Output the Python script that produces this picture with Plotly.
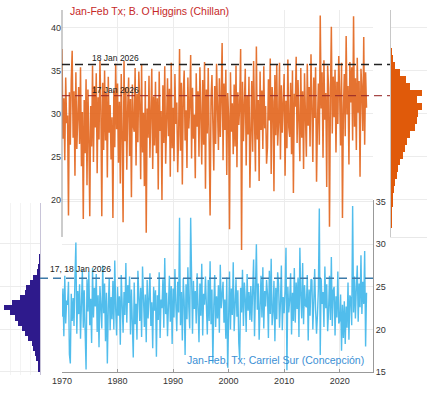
import plotly.graph_objects as go

W, H = 427, 393

years = list(range(1970, 2025))
pts_per_year = 6

chillan_tx = [
    37.5, 27.1, 31.8, 24.6, 34.2, 28.9,
    29.8, 18.2, 32.5, 26.4, 33.9, 37.3,
    27.2, 32.6, 22.8, 34.8, 25.9, 30.7,
    33.1, 26.5, 35.4, 23.9, 30.2, 17.8,
    31.6, 25.4, 34.0, 21.7, 32.8, 27.3,
    18.1, 30.9, 26.2, 35.6, 24.4, 33.2,
    28.4, 34.7, 23.1, 31.9, 27.0, 36.2,
    30.5, 18.1, 33.6, 25.8, 35.0, 26.9,
    32.4, 22.6, 34.3, 27.8, 31.0, 24.7,
    29.6, 17.9, 32.7, 26.1, 35.8, 28.2,
    33.5, 24.3, 31.4, 21.9, 34.6, 27.5,
    17.4, 36.1, 26.8, 33.0, 23.5, 30.8,
    34.2, 25.1, 31.7, 20.3, 33.4, 28.6,
    27.9, 35.3, 24.0, 32.3, 26.7, 34.9,
    31.2, 22.4, 35.7, 25.5, 30.1, 21.6,
    33.8, 16.2, 30.6, 27.2, 34.4, 24.9,
    29.1, 35.2, 23.6, 32.0, 26.3, 33.7,
    25.4, 31.8, 21.2, 34.9, 28.0, 30.3,
    20.0, 33.3, 26.6, 35.5, 24.2, 31.5,
    34.1, 27.4, 32.9, 22.7, 35.9, 26.0,
    30.7, 24.5, 34.6, 28.8, 31.3, 23.2,
    27.6, 37.5, 25.7, 33.6, 21.8, 32.2,
    35.0, 26.9, 30.4, 23.7, 34.2, 28.3,
    31.1, 36.8, 24.8, 33.0, 27.1, 29.9,
    22.5, 34.7, 28.5, 32.6, 25.0, 35.4,
    29.3, 24.1, 33.9, 26.4, 36.0, 21.3,
    32.8, 27.7, 35.3, 25.2, 18.2, 31.6,
    34.5, 28.9, 23.4, 33.2, 26.5, 35.8,
    30.2, 25.8, 34.1, 27.3, 31.9, 38.2,
    24.6, 33.5, 28.1, 35.1, 22.9, 32.4,
    29.7, 16.6, 34.8, 27.9, 31.2, 25.3,
    33.4, 26.2, 35.6, 23.8, 32.5, 28.7,
    31.0, 37.5, 14.2, 33.7, 26.8, 30.5,
    35.2, 24.0, 32.1, 27.6, 34.3, 21.4,
    28.5, 33.8, 25.6, 36.1, 29.4, 23.3,
    37.8, 27.0, 31.6, 22.2, 34.9, 28.1,
    32.7, 25.9, 35.5, 28.3, 30.9, 24.2,
    26.1, 34.0, 29.2, 36.4, 23.0, 33.1,
    31.4, 21.0, 34.5, 27.5, 35.7, 26.3,
    29.0, 35.9, 24.7, 33.3, 27.8, 31.9,
    34.6, 22.8, 31.5, 26.0, 36.3, 28.4,
    27.3, 33.6, 25.3, 35.0, 20.8, 32.3,
    30.8, 36.6, 26.6, 33.9, 28.2, 24.5,
    35.3, 27.2, 32.6, 23.6, 34.7, 29.8,
    25.0, 35.8, 28.6, 33.1, 26.2, 36.9,
    31.7, 24.4, 34.2, 29.5, 35.4, 22.1,
    28.9, 33.5, 26.4, 41.4, 30.6, 34.8,
    24.9, 36.2, 29.3, 32.4, 21.5, 35.6,
    33.0, 16.9, 31.8, 40.1, 27.7, 34.3,
    29.6, 35.1, 25.5, 33.7, 28.8, 36.7,
    32.2, 26.3, 35.9, 17.9, 30.4, 34.6,
    27.4, 39.0, 29.9, 33.2, 24.1, 36.0,
    31.3, 35.4, 26.9, 41.3, 28.5, 34.1,
    25.8, 36.5, 30.1, 33.8, 22.7, 35.2,
    32.9, 28.0, 38.9, 26.4, 34.8, 30.7,
]

concepcion_tx = [
    21.5, 24.8, 19.2, 26.3, 20.7, 23.4,
    22.9, 25.6, 17.1, 16.0, 24.2, 21.0,
    23.7, 20.4, 26.1, 30.2, 19.5, 24.5,
    21.8, 25.3, 18.9, 23.9, 27.0, 20.2,
    24.6, 19.8, 15.3, 25.9, 22.1, 26.8,
    20.5, 23.6, 18.4, 27.2, 21.4, 24.9,
    22.7, 26.5, 19.7, 24.0, 17.9, 25.1,
    23.3, 20.1, 27.5, 21.9, 25.4, 18.6,
    24.3, 16.0, 22.6, 26.0, 19.9, 23.8,
    21.2, 25.7, 20.0, 28.1, 22.4, 19.3,
    25.0, 21.6, 23.9, 18.2, 26.4, 22.0,
    19.6, 24.4, 21.7, 27.8, 20.8, 25.2,
    23.1, 26.2, 19.4, 24.7, 21.5, 16.7,
    25.5, 20.6, 23.0, 18.8, 26.9, 22.3,
    21.0, 24.9, 19.1, 27.4, 22.8, 20.3,
    24.1, 18.5, 25.8, 21.3, 23.6, 26.6,
    20.4, 23.2, 17.8, 25.0, 22.2, 24.6,
    16.8, 24.0, 21.1, 26.7, 19.0, 23.5,
    22.5, 25.9, 20.2, 28.4, 21.8, 24.3,
    19.2, 23.7, 26.3, 20.9, 25.1, 18.3,
    24.8, 21.4, 27.1, 22.9, 19.8, 25.6,
    22.0, 33.1, 20.5, 24.4, 18.7, 26.0,
    23.4, 17.0, 25.3, 21.2, 27.3, 22.6,
    20.1, 33.1, 23.8, 19.5, 25.7, 22.4,
    24.5, 20.7, 26.6, 22.1, 18.5, 25.4,
    21.6, 27.7, 19.3, 24.2, 22.9, 26.2,
    23.0, 19.4, 25.8, 21.0, 28.0, 20.6,
    24.7, 16.0, 22.8, 26.4, 20.3, 23.9,
    21.3, 25.2, 19.6, 27.6, 22.5, 24.1,
    25.6, 20.8, 23.5, 18.9, 26.1, 15.5,
    22.4, 26.8, 20.0, 24.8, 21.7, 27.9,
    19.8, 23.3, 25.9, 21.5, 24.6, 18.4,
    16.5, 24.9, 22.0, 27.0, 20.4, 25.5,
    23.6, 19.7, 26.5, 22.2, 24.4, 21.1,
    25.1, 20.9, 23.7, 28.2, 19.2, 24.0,
    30.0, 22.3, 25.4, 18.8, 23.9, 26.3,
    21.4, 27.3, 20.1, 24.5, 22.7, 25.8,
    24.2, 19.0, 26.9, 21.8, 28.3, 20.5,
    22.1, 25.7, 18.6, 24.9, 21.2, 26.7,
    25.3, 20.2, 23.1, 27.5, 19.9, 23.8,
    21.9, 24.6, 29.6, 15.2, 25.0, 22.0,
    23.5, 26.6, 19.4, 24.3, 21.0, 27.2,
    20.8, 25.5, 22.4, 26.1, 19.1, 29.6,
    24.0, 21.3, 27.8, 20.6, 25.2, 22.8,
    22.6, 26.4, 18.7, 24.7, 21.6, 25.9,
    25.8, 20.0, 23.2, 27.1, 22.3, 19.5,
    21.7, 24.8, 34.2, 17.0, 26.0, 23.0,
    24.4, 20.3, 27.4, 22.5, 25.3, 19.8,
    22.2, 26.3, 21.1, 28.5, 20.4, 24.6,
    25.0, 19.3, 23.9, 21.4, 26.8, 20.7,
    21.0, 24.1, 17.5, 22.9, 19.0, 23.3,
    18.3, 22.7, 20.2, 25.5, 18.8, 24.0,
    23.7, 20.5, 34.5, 22.0, 26.2, 21.3,
    24.9, 27.5, 20.9, 25.4, 22.6, 28.7,
    21.8, 25.6, 23.0, 29.2, 18.0, 24.3,
]

# histogram bins (centres, degC) and bar lengths (relative counts)
chillan_bin_centres = [37.2, 36.4, 35.6, 34.8, 34.0, 33.2, 32.4, 31.6, 30.8, 30.0, 29.2, 28.4, 27.6,
                       26.8, 26.0, 25.2, 24.4, 23.6, 22.8, 22.0, 21.2, 20.4, 19.6, 18.8, 18.0, 17.2]
chillan_bin_counts = [1, 2, 4, 9, 15, 19, 31, 26, 31, 27, 26, 24, 19,
                      16, 14, 12, 9, 7, 6, 4, 3, 2, 1.5, 1, 1, 0.7]
chillan_bin_width = 0.8

concep_bin_centres = [28.5, 27.9, 27.3, 26.7, 26.1, 25.5, 24.9, 24.3, 23.7, 23.1, 22.5, 21.9,
                      21.3, 20.7, 20.1, 19.5, 18.9, 18.3, 17.7, 17.1, 16.5, 15.9, 15.3]
concep_bin_counts = [0.5, 1, 1.5, 3, 7, 10, 14, 15, 20, 28, 36, 30,
                     25, 22, 18, 15, 12, 8, 7, 5, 4, 2, 1.5]
concep_bin_width = 0.6

rec_18jan_chillan = 35.7
rec_17jan_chillan = 32.1
rec_1718jan_concep = 26.0

year_ticks = [1970, 1980, 1990, 2000, 2010, 2020]
upper_ticks = [20, 25, 30, 35, 40]
lower_ticks = [15, 20, 25, 30, 35]

def xpos(vals):
    out = []
    for y in years:
        for i in range(pts_per_year):
            out.append(y + i / pts_per_year)
    return out[:len(vals)]

def px(x):
    return x / W

def py(y):
    return 1 - y / H

FONT = "Liberation Sans"
ORANGE = "rgba(225,96,20,0.88)"
BLUE = "rgba(62,182,234,0.9)"

fig = go.Figure()

fig.add_trace(go.Scatter(x=xpos(concepcion_tx), y=concepcion_tx, mode="lines",
                         line=dict(color=BLUE, width=1.4), xaxis="x", yaxis="y",
                         showlegend=False, hoverinfo="skip"))
fig.add_trace(go.Scatter(x=xpos(chillan_tx), y=chillan_tx, mode="lines",
                         line=dict(color=ORANGE, width=1.5), xaxis="x2", yaxis="y2",
                         showlegend=False, hoverinfo="skip"))
fig.add_trace(go.Bar(y=chillan_bin_centres, x=chillan_bin_counts, orientation="h",
                     width=chillan_bin_width, marker=dict(color="#e05a0a", line=dict(width=0)),
                     xaxis="x3", yaxis="y3", showlegend=False, hoverinfo="skip"))
fig.add_trace(go.Bar(y=concep_bin_centres, x=concep_bin_counts, orientation="h",
                     width=concep_bin_width, marker=dict(color="#2e1a8c", line=dict(width=0)),
                     xaxis="x4", yaxis="y4", showlegend=False, hoverinfo="skip"))

GRID = "#ececec"
tickfont = dict(family=FONT, size=9, color="#333")
xdom = [px(62), px(373)]
common = dict(automargin=False, zeroline=False)

fig.update_layout(
    template="none",
    width=W, height=H,
    margin=dict(l=0, r=0, t=0, b=0, pad=0, autoexpand=False),
    paper_bgcolor="white", plot_bgcolor="rgba(0,0,0,0)",
    bargap=0,
    xaxis=dict(domain=xdom, range=[1970, 2026], anchor="y", tickvals=year_ticks,
               showline=True, linecolor="#999", linewidth=1, ticks="inside", ticklen=3,
               tickcolor="#999", showgrid=True, gridcolor=GRID, tickfont=tickfont, **common),
    yaxis=dict(domain=[py(372), py(200)], range=[15, 35.2], anchor="x", side="right",
               tickvals=lower_ticks, showline=True, linecolor="#999", linewidth=1,
               ticks="", showgrid=True, gridcolor=GRID, tickfont=tickfont, **common),
    xaxis2=dict(domain=xdom, range=[1970, 2026], anchor="y2", tickvals=year_ticks,
                showticklabels=False, showline=False, ticks="", showgrid=True, gridcolor=GRID,
                **common),
    yaxis2=dict(domain=[py(260), py(10)], range=[13.03, 42.03], anchor="x2", side="left",
                tickvals=upper_ticks, showline=False, ticks="", showgrid=True,
                gridcolor=GRID, tickfont=tickfont, **common),
    xaxis3=dict(domain=[px(391), 1.0], range=[0, 36], anchor="y3", showticklabels=False,
                ticks="", showline=True, linecolor="#e8e8e8", showgrid=False, **common),
    yaxis3=dict(domain=[py(237), py(10)], range=[15.7, 42.03], anchor="x3",
                tickvals=upper_ticks, showticklabels=False, ticks="", showline=True,
                linecolor="#c8c8c8", showgrid=True, gridcolor=GRID, **common),
    xaxis4=dict(domain=[0.0, px(40)], range=[40, 0], anchor="y4", showticklabels=False,
                ticks="", showline=False, showgrid=True, gridcolor="#f3f3f3", dtick=10,
                **common),
    yaxis4=dict(domain=[py(375), py(203)], range=[14.6, 34.8], anchor="x4", side="right",
                tickvals=lower_ticks, showticklabels=False, ticks="", showline=True,
                linecolor="#c8c4d8", showgrid=True, gridcolor=GRID, **common),
)

shapes = [
    dict(type="line", xref="paper", yref="y2", x0=px(62), x1=px(62), y0=15.7, y1=42.03,
         line=dict(color="#999", width=1)),
    dict(type="line", xref="paper", yref="y2", x0=px(62), x1=px(390),
         y0=rec_18jan_chillan, y1=rec_18jan_chillan,
         line=dict(color="#222", width=1.4, dash="8px,5px")),
    dict(type="line", xref="paper", yref="y2", x0=px(62), x1=px(390),
         y0=rec_17jan_chillan, y1=rec_17jan_chillan,
         line=dict(color="rgba(150,40,40,0.85)", width=1.4, dash="8px,5px")),
    dict(type="line", xref="paper", yref="y", x0=px(40), x1=px(373),
         y0=rec_1718jan_concep, y1=rec_1718jan_concep,
         line=dict(color="#3d7aa8", width=1.5, dash="8px,5px")),
]
fig.update_layout(shapes=shapes)

ann = [
    dict(text="Jan-Feb Tx; B. O\u2019Higgins (Chillan)", x=px(68), y=py(11), xanchor="left",
         yanchor="middle", font=dict(family=FONT, size=10.5, color="#c62828")),
    dict(text="18 Jan 2026", x=px(90), y=py(58), xanchor="left", yanchor="middle",
         font=dict(family=FONT, size=8.5, color="#222")),
    dict(text="17 Jan 2026", x=px(90), y=py(90), xanchor="left", yanchor="middle",
         font=dict(family=FONT, size=8.5, color="#222")),
    dict(text="17, 18 Jan 2026", x=px(48), y=py(269), xanchor="left", yanchor="middle",
         font=dict(family=FONT, size=8.5, color="#222")),
    dict(text="Jan-Feb, Tx; Carriel Sur (Concepción)", x=px(366), y=py(360), xanchor="right",
         yanchor="middle", font=dict(family=FONT, size=10.5, color="#3a8fd4")),
]
for a in ann:
    a.update(xref="paper", yref="paper", showarrow=False)
fig.update_layout(annotations=ann)

fig.write_html("out.html", config={"displayModeBar": False},
               post_script="document.body.style.margin='0px';document.body.style.overflow='hidden';")
